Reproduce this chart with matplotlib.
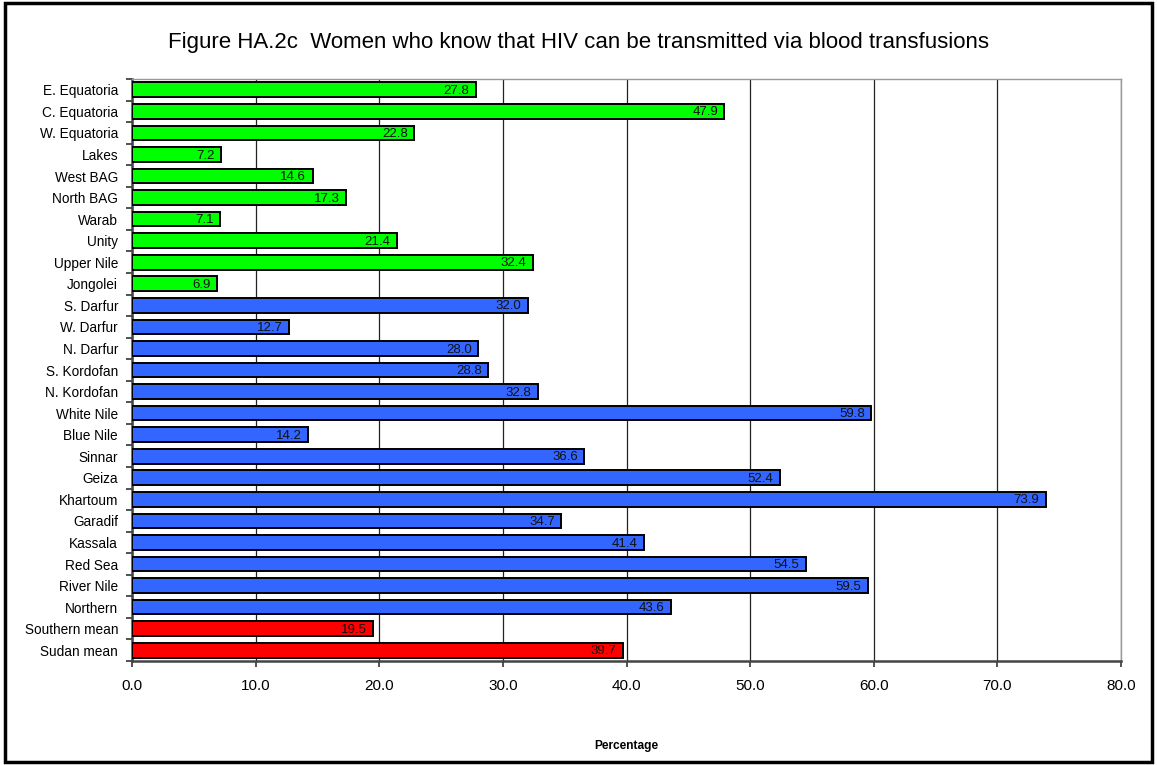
import matplotlib.pyplot as plt
import numpy as np

plt.rcParams['font.family'] = ['Liberation Sans', 'DejaVu Sans']

regions = ['E. Equatoria', 'C. Equatoria', 'W. Equatoria', 'Lakes', 'West BAG',
           'North BAG', 'Warab', 'Unity', 'Upper Nile', 'Jongolei',
           'S. Darfur', 'W. Darfur', 'N. Darfur', 'S. Kordofan', 'N. Kordofan',
           'White Nile', 'Blue Nile', 'Sinnar', 'Geiza', 'Khartoum',
           'Garadif', 'Kassala', 'Red Sea', 'River Nile', 'Northern',
           'Southern mean', 'Sudan mean']
values = [27.8, 47.9, 22.8, 7.2, 14.6, 17.3, 7.1, 21.4, 32.4, 6.9,
          32.0, 12.7, 28.0, 28.8, 32.8, 59.8, 14.2, 36.6, 52.4, 73.9,
          34.7, 41.4, 54.5, 59.5, 43.6, 19.5, 39.7]
groups = ['south'] * 10 + ['north'] * 15 + ['mean'] * 2
group_colors = {'south': '#00FF00', 'north': '#3366FF', 'mean': '#FF0000'}
xticks = [0, 10, 20, 30, 40, 50, 60, 70, 80]

fig = plt.figure(figsize=(11.57, 7.65), dpi=100)
ax = fig.add_axes([0.1141, 0.1359, 0.9689 - 0.1141, 0.8967 - 0.1359])

n = len(regions)
y = np.arange(n)
colors = [group_colors[g] for g in groups]
ax.barh(y, values, height=0.68, color=colors, edgecolor='black', linewidth=1.4, zorder=3)

for yi, v in zip(y, values):
    ax.text(v - 0.5, yi + 0.05, '%.1f' % v, ha='right', va='center', fontsize=9.5,
            color='#111111', zorder=4)

ax.set_ylim(n - 0.5, -0.5)
ax.set_xlim(0, 80)
ax.set_yticks(y)
ax.set_yticklabels(regions, fontsize=9.8)
ax.set_yticks(np.arange(n + 1) - 0.5, minor=True)
ax.tick_params(axis='y', which='major', length=0, pad=10)
ax.tick_params(axis='y', which='minor', length=4, width=1.2, color='#333333')
ax.set_xticks(xticks)
ax.set_xticklabels(['%.1f' % t for t in xticks], fontsize=11)
ax.tick_params(axis='x', length=4, width=1.2, color='#333333', pad=9)

ax.grid(axis='x', color='#222222', linewidth=0.9, zorder=0)
for side in ['top', 'right']:
    ax.spines[side].set_color('#999999')
    ax.spines[side].set_linewidth(1.0)
for side in ['left', 'bottom']:
    ax.spines[side].set_color('#444444')
    ax.spines[side].set_linewidth(1.8)

ax.set_xlabel('Percentage', fontsize=8.6, fontweight='bold', labelpad=34)
fig.text(0.5, 0.944, 'Figure HA.2c  Women who know that HIV can be transmitted via blood transfusions',
         ha='center', va='center', fontsize=16)

# outer frame around the whole figure
fig.patches.append(plt.Rectangle((0.004, 0.004), 0.992, 0.992, transform=fig.transFigure,
                                 fill=False, edgecolor='black', linewidth=2.5))

fig.savefig('out.png', dpi=100)
